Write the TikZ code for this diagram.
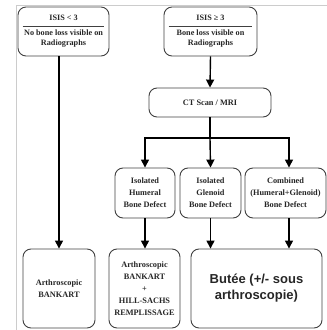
\documentclass[tikz,border=0pt]{standalone}
\usepackage{fontspec}
\setmainfont{Liberation Serif}
\newfontfamily\butfont{Liberation Sans}
\usetikzlibrary{arrows.meta}

\tikzset{
  box/.style={draw=black!75,line width=0.9pt,rounded corners=8pt,align=center,inner sep=1pt,
    font=\fontsize{8.3}{12}\selectfont\bfseries,text=black!85},
  flow/.style={line width=1.4pt,-{Triangle[width=8pt,length=8pt]}},
  divider/.style={draw=black!75,line width=0.8pt}
}

\begin{document}
\begin{tikzpicture}[x=1pt,y=-1pt]
\useasboundingbox (0,0) rectangle (327,330);
\draw[black!20,line width=0.8pt] (16,330) -- (16,5) -- (327,5);
% top row
\node[box,minimum width=91pt,minimum height=49pt,font=\fontsize{8.2}{10}\selectfont\bfseries] (isislow) at (63.5,31.5) {ISIS < 3\\[5pt]No bone loss visible on\\Radiographs};
\node[box,minimum width=93pt,minimum height=49pt,font=\fontsize{8.2}{10}\selectfont\bfseries] (isishigh) at (210.5,31.5) {ISIS ≥ 3\\[5pt]Bone loss visible on\\Radiographs};
\draw[divider] ([shift={(5,20)}]isislow.north west) -- ([shift={(-5,20)}]isislow.north east);
\draw[divider] ([shift={(5,20)}]isishigh.north west) -- ([shift={(-5,20)}]isishigh.north east);
\node[box,minimum width=122pt,minimum height=29pt] (ct) at (210,102.5) {CT Scan / MRI};
% defects
\node[box,minimum width=60pt,minimum height=50pt] (humeral) at (145,193) {Isolated\\Humeral\\Bone Defect};
\node[box,minimum width=61pt,minimum height=50pt] (glenoid) at (210.5,193) {Isolated\\Glenoid\\Bone Defect};
\node[box,minimum width=81pt,minimum height=50pt] (combined) at (285.5,193) {Combined\\(Humeral+Glenoid)\\Bone Defect};
% treatments
\node[box,minimum width=72pt,minimum height=79pt] (bankart) at (59,288.5) {Arthroscopic\\BANKART};
\node[box,minimum width=71pt,minimum height=79pt] (remplissage) at (144.5,288.5) {Arthroscopic\\BANKART\\+\\HILL-SACHS\\REMPLISSAGE};
\node[box,minimum width=131pt,minimum height=79pt,font=\butfont\fontsize{13}{16}\selectfont\bfseries] (butee) at (256.5,288.5) {Butée (+/- sous\\arthroscopie)};
% connectors
\coordinate (split) at (210,138);
\draw[flow] (bankart.north |- isislow.south) -- (bankart.north);
\draw[flow] (isishigh.south) -- (ct.north);
\draw[line width=1.4pt] (ct.south) -- (split);
\draw[flow] (split) -- (glenoid.north);
\draw[flow] (split) -| (humeral.north);
\draw[flow] (split) -| ([xshift=3.5pt]combined.north);
\draw[flow] (humeral.south) -- (humeral.south |- remplissage.north);
\draw[flow] (glenoid.south) -- (glenoid.south |- butee.north);
\draw[flow] ([xshift=3.5pt]combined.south) -- ([xshift=3.5pt]combined.south |- butee.north);
\end{tikzpicture}
\end{document}
